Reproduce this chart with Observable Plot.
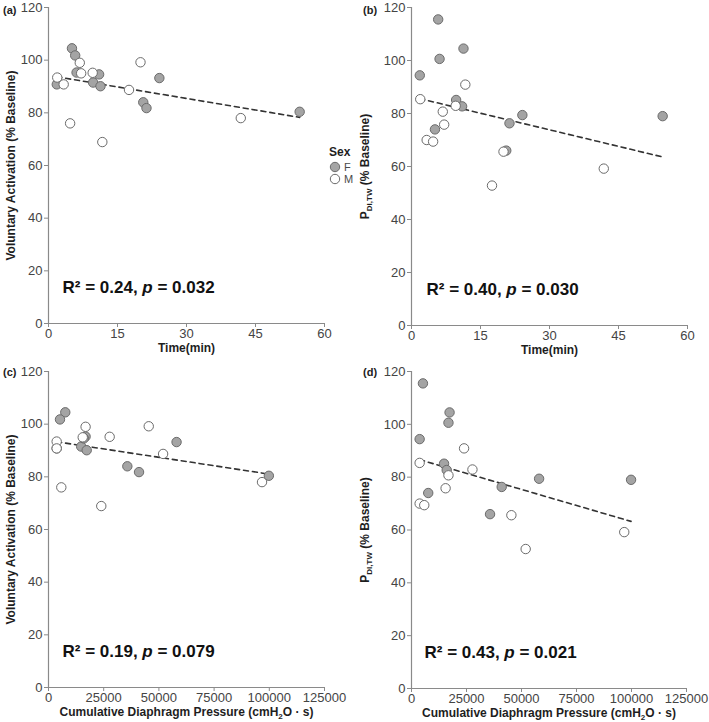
<!DOCTYPE html>
<html><head><meta charset="utf-8">
<script src="https://cdn.jsdelivr.net/npm/d3@7"></script>
<script src="https://cdn.jsdelivr.net/npm/@observablehq/plot@0.6"></script>
<style>
body{margin:0;background:#fff;}
#fig{position:relative;width:709px;height:722px;font-family:"Liberation Sans",Arial,Helvetica,sans-serif;background:#fff;}
.panel{position:absolute;}
.panel svg{overflow:visible;}
.tag{position:absolute;font-weight:bold;font-size:11px;color:#222;}
g[aria-label="x-axis label"] text, g[aria-label="y-axis label"] text{font-weight:bold;font-size:12px;fill:#1e1e1e;}
g[aria-label="x-axis tick label"] text, g[aria-label="y-axis tick label"] text{fill:#444;}
</style></head><body><div id="fig"></div>
<script>
// ---- data (one entry per subject) ----
const sex     = ["F","F","F","F","F","F","F","F","F","F","F","M","M","M","M","M","M","M","M","M","M"];
const timeMin = [1.8,5.1,5.8,6.1,9.7,11.0,11.3,24.1,20.6,21.3,54.6, 1.9,3.3,4.7,6.8,7.1,9.6,11.7,17.5,20.0,41.8];
const cdp     = [3700,7600,5200,16800,14800,16000,17300,58000,35700,41000,99800, 3700,3700,5800,16800,15500,27700,23900,51900,45400,96700];
const va      = [90.8,104.5,101.8,95.3,91.5,94.6,90.1,93.2,84.0,81.8,80.4, 93.4,90.8,76.0,99.0,95.0,95.2,68.9,88.7,99.2,78.0];
const pdi     = [94.4,74.0,115.5,100.6,85.1,82.7,104.5,79.4,66.0,76.3,79.0, 85.4,70.0,69.4,80.7,75.8,82.9,90.9,52.8,65.6,59.2];

// ---- tick labels / annotations ----
const yTicks    = [0,20,40,60,80,100,120];
const timeTicks = [0,15,30,45,60];
const cdpTicks  = [0,25000,50000,75000,100000,125000];
const sexLevels = ["F","M"];
const sexColors = ["#a4a4a4","#ffffff"];
const r2Values  = ["0.24","0.40","0.19","0.43"];
const pValues   = ["0.032","0.030","0.079","0.021"];
const panelTags = ["(a)","(b)","(c)","(d)"];

const subjects = sex.map((s,i)=>({sex:s,time:timeMin[i],cdp:cdp[i],va:va[i],pdi:pdi[i]}));

const panels = [
  {left:0,   top:0,   width:354, height:360, mL:48, mR:30, mT:7,  mB:37, x:"time", y:"va",  xMax:60,     xTicks:timeTicks, xLabel:"time", yLabel:"va",  sdx:14, sdy:-36},
  {left:354, top:0,   width:355, height:360, mL:57, mR:22, mT:7,  mB:35, x:"time", y:"pdi", xMax:60,     xTicks:timeTicks, xLabel:"time", yLabel:"pdi", sdx:15, sdy:-36},
  {left:0,   top:360, width:354, height:362, mL:48, mR:30, mT:11, mB:35, x:"cdp",  y:"va",  xMax:125000, xTicks:cdpTicks,  xLabel:"cdp",  yLabel:"va",  sdx:14, sdy:-36},
  {left:354, top:360, width:355, height:362, mL:57, mR:23, mT:11, mB:34, x:"cdp",  y:"pdi", xMax:125000, xTicks:cdpTicks,  xLabel:"cdp",  yLabel:"pdi", sdx:13, sdy:-36}
];

const fig = document.getElementById("fig");
const axisColor = "#8a8a8a";

panels.forEach((p,i)=>{
  const plot = Plot.plot({
    width:p.width, height:p.height,
    marginLeft:p.mL, marginRight:p.mR, marginTop:p.mT, marginBottom:p.mB,
    style:{fontFamily:"'Liberation Sans',Arial,Helvetica,sans-serif", fontSize:"13px", color:"#444", background:"transparent", overflow:"visible"},
    x:{domain:[0,p.xMax]},
    y:{domain:[0,120]},
    color:{domain:sexLevels, range:sexColors},
    marks:[
      Plot.axisY({ticks:yTicks, tickSize:4, tickPadding:2, stroke:axisColor, label:"Y", labelAnchor:"center", labelOffset:p.mL-6}),
      Plot.axisX({ticks:p.xTicks, tickSize:4, tickPadding:1, tickFormat:d=>String(d), stroke:axisColor, label:"X", labelAnchor:"center", labelOffset:28}),
      Plot.ruleX([0], {stroke:axisColor, strokeWidth:1.2}),
      Plot.ruleY([0], {stroke:axisColor, strokeWidth:1.2}),
      Plot.linearRegressionY(subjects, {x:p.x, y:p.y, ci:0, stroke:"#333", strokeWidth:1.6, strokeDasharray:"5,4"}),
      Plot.dot(subjects, {x:p.x, y:p.y, r:4.7, fill:"sex", stroke:"#6b6b6b", strokeWidth:1, fillOpacity:1}),
      Plot.text([0], {frameAnchor:"bottom-left", dx:p.sdx, dy:p.sdy, text:()=>"R", textAnchor:"start", lineAnchor:"middle", fontSize:17, fontWeight:"bold", fill:"#111"})
    ]
  });
  const svg = d3.select(plot);
  // stat annotation with italic p
  const st = svg.select('g[aria-label="text"] text');
  st.text("");
  st.append("tspan").text(`R² = ${r2Values[i]}, `);
  st.append("tspan").attr("font-style","italic").text("p");
  st.append("tspan").text(` = ${pValues[i]}`);
  // y label
  const yl = svg.select('g[aria-label="y-axis label"] text');
  yl.text("");
  if (p.yLabel==="va") {
    yl.append("tspan").text("Voluntary Activation (% Baseline)");
  } else {
    yl.append("tspan").text("P");
    yl.append("tspan").attr("font-size","8px").attr("dy","3").text("DI,TW");
    yl.append("tspan").attr("dy","-3").text(" (% Baseline)");
  }
  // x label
  const xl = svg.select('g[aria-label="x-axis label"] text');
  xl.text("");
  if (p.xLabel==="time") {
    xl.append("tspan").text("Time(min)");
  } else {
    xl.append("tspan").text("Cumulative Diaphragm Pressure (cmH");
    xl.append("tspan").attr("font-size","8px").attr("dy","3").text("2");
    xl.append("tspan").attr("dy","-3").text("O · s)");
  }
  const div = document.createElement("div");
  div.className = "panel";
  div.style.left = p.left+"px"; div.style.top = p.top+"px";
  div.appendChild(plot);
  fig.appendChild(div);
  const tag = document.createElement("div");
  tag.className = "tag";
  tag.textContent = panelTags[i];
  tag.style.left = (p.left+ (i%2? 9:3))+"px";
  tag.style.top = (p.top+ (i<2?4:6))+"px";
  fig.appendChild(tag);
});

// legend
const leg = d3.select(fig).append("div").style("position","absolute").style("left","326px").style("top","144px");
const lsvg = leg.append("svg").attr("width",36).attr("height",44).style("overflow","visible");
lsvg.append("text").attr("x",3).attr("y",12).attr("font-weight","bold").attr("font-size","12px").attr("fill","#1e1e1e").attr("font-family","'Liberation Sans',Arial,sans-serif").text("Sex");
sexLevels.forEach((s,k)=>{
  lsvg.append("circle").attr("cx",9).attr("cy",23+k*12).attr("r",4.7).attr("fill",sexColors[k]).attr("stroke","#6b6b6b");
  lsvg.append("text").attr("x",18).attr("y",27+k*12).attr("font-size","11px").attr("fill","#4a4a4a").attr("font-family","'Liberation Sans',Arial,sans-serif").text(s);
});
</script>
</body></html>
